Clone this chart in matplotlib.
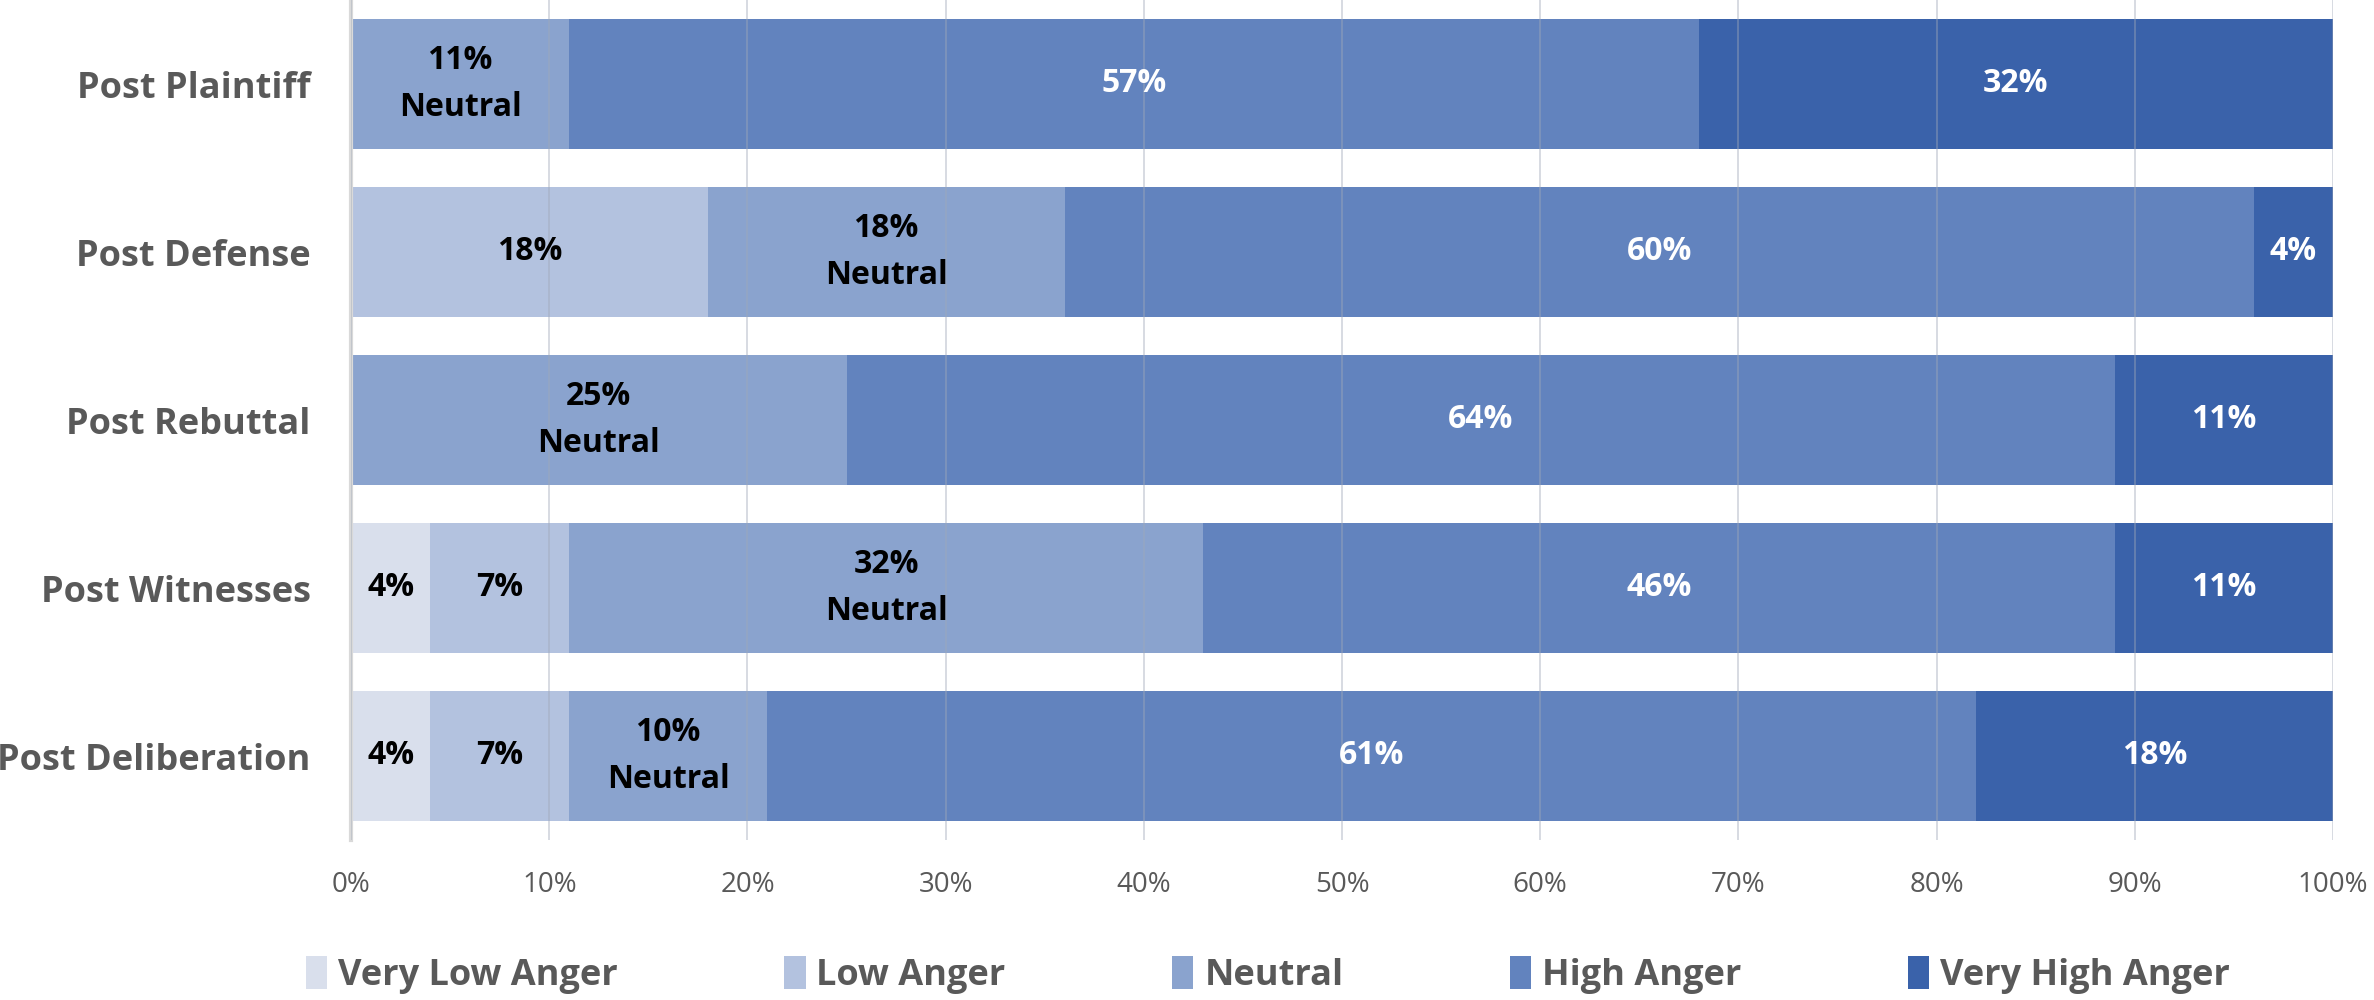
import numpy as np
import matplotlib.pyplot as plt
from matplotlib.patches import Patch

plt.rcParams['font.family'] = ['Open Sans', 'DejaVu Sans']

stages = ["Post Plaintiff", "Post Defense", "Post Rebuttal", "Post Witnesses", "Post Deliberation"]
levels = ["Very Low Anger", "Low Anger", "Neutral", "High Anger", "Very High Anger"]

very_low = [0, 0, 0, 4, 4]
low = [0, 18, 0, 7, 7]
neutral = [11, 18, 25, 32, 10]
high = [57, 60, 64, 46, 61]
very_high = [32, 4, 11, 11, 18]

colors = ["#D9DFEC", "#B3C2DF", "#8AA3CE", "#6283BE", "#3A62AA"]
text_colors = ["black", "black", "black", "white", "white"]

series = [very_low, low, neutral, high, very_high]

fig = plt.figure(figsize=(23.74, 10), dpi=100)
ax = fig.add_axes([0.1479, 0.16, 0.8348, 0.84])

y = np.arange(len(stages))
left = np.zeros(len(stages))
for k, vals in enumerate(series):
    vals = np.array(vals, dtype=float)
    ax.barh(y, vals, left=left, height=0.77, color=colors[k], zorder=1)
    for i, v in enumerate(vals):
        if v <= 0:
            continue
        lab = f"{int(v)}%"
        if levels[k] == "Neutral":
            lab += "\nNeutral"
        ax.text(left[i] + v / 2, y[i], lab, ha="center", va="center",
                color=text_colors[k], fontsize=23, fontweight="bold",
                linespacing=1.55, zorder=3)
    left += vals

ax.set_xlim(0, 100)
ax.set_ylim(4.5, -0.5)
ax.set_xticks(np.arange(0, 101, 10))
ax.set_xticklabels([f"{t}%" for t in range(0, 101, 10)], fontsize=20, color="#595959")
ax.set_yticks(y)
ax.set_yticklabels(stages, fontsize=26, fontweight="bold", color="#595959")
ax.tick_params(axis="both", length=0)
ax.tick_params(axis="x", pad=22)
ax.tick_params(axis="y", pad=29)
ax.grid(axis="x", color="#A0A8B8", linewidth=1.3, alpha=0.45, zorder=2)
ax.set_axisbelow(False)
for s in ["top", "right", "bottom"]:
    ax.spines[s].set_visible(False)
ax.spines["left"].set_color("#D9D9D9")
ax.spines["left"].set_linewidth(3)

handles = [Patch(facecolor=c, label=l) for c, l in zip(colors, levels)]
leg = fig.legend(handles=handles, loc="center", bbox_to_anchor=(0.534, 0.025), ncol=5,
                 frameon=False, handlelength=0.6, handleheight=1.0, handletextpad=0.3,
                 columnspacing=4.6, prop={"size": 26, "weight": "bold"})
for t in leg.get_texts():
    t.set_color("#595959")

fig.savefig("out.png", dpi=100)
